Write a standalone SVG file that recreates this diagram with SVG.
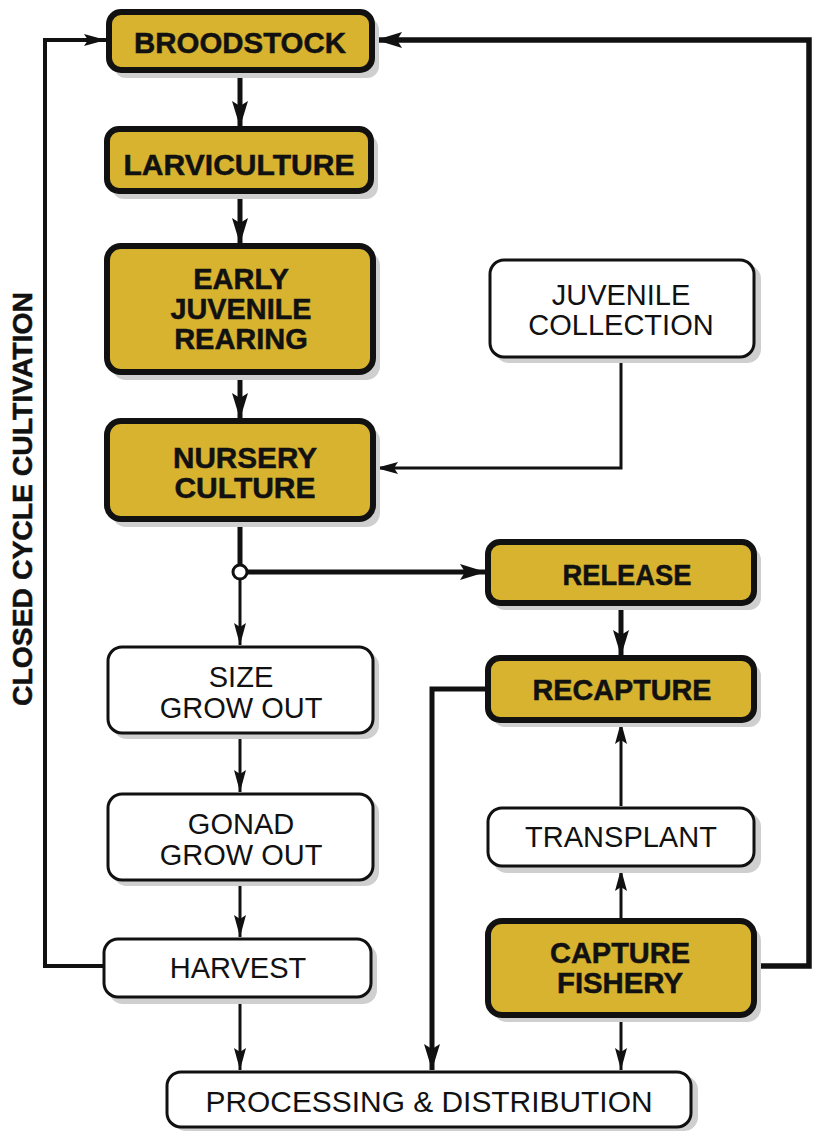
<svg xmlns="http://www.w3.org/2000/svg" width="813" height="1131" viewBox="0 0 813 1131">
<style>
.gold{fill:#d7b330;stroke:#111;stroke-width:6}
.white{fill:#fff;stroke:#111;stroke-width:3}
.shadow{fill:#cfcfcf}
.bt{font-family:"Liberation Sans",Arial,sans-serif;font-weight:bold;font-size:30px;fill:#111;stroke:#111;stroke-width:0.5;text-anchor:middle}
.rt{font-family:"Liberation Sans",Arial,sans-serif;font-size:29px;fill:#111;text-anchor:middle}
.thick{fill:none;stroke:#111;stroke-width:5}
.thin{fill:none;stroke:#111;stroke-width:3}
</style>
<defs>
<marker id="ah" markerUnits="userSpaceOnUse" markerWidth="28" markerHeight="18" refX="26" refY="8" orient="auto">
<path d="M0,0 L26,8 L0,16 L5,8 z" fill="#111"/>
</marker>
<marker id="ahs" markerUnits="userSpaceOnUse" markerWidth="24" markerHeight="14" refX="22" refY="6" orient="auto">
<path d="M0,0 L22,6 L0,12 L4,6 z" fill="#111"/>
</marker>
</defs>

<g id="connectors">
<path class="thick" d="M240,73 V127" marker-end="url(#ah)"/>
<path class="thick" d="M240,194 V244" marker-end="url(#ah)"/>
<path class="thick" d="M240,375 V419" marker-end="url(#ah)"/>
<path class="thick" d="M240,522 V565"/>
<path class="thick" d="M247,572 H486" marker-end="url(#ah)"/>
<path class="thin" d="M240,579 V645" marker-end="url(#ahs)"/>
<path class="thin" d="M240,735 V792" marker-end="url(#ahs)"/>
<path class="thin" d="M240,882 V937" marker-end="url(#ahs)"/>
<path class="thin" d="M240,999 V1070" marker-end="url(#ahs)"/>
<path fill="none" stroke="#111" stroke-width="4" d="M104,966 H45 V40 H106" marker-end="url(#ahs)"/>
<path fill="none" stroke="#111" stroke-width="5.5" d="M755,966 H809 V40 H376" marker-end="url(#ah)"/>
<path class="thin" d="M621,359 V468 H376" marker-end="url(#ahs)"/>
<path class="thick" d="M621,606 V656" marker-end="url(#ah)"/>
<path class="thick" d="M486,689 H432 V1070" marker-end="url(#ah)"/>
<path class="thin" d="M621,806 V722" marker-end="url(#ahs)"/>
<path class="thin" d="M621,919 V869" marker-end="url(#ahs)"/>
<path class="thin" d="M621,1018 V1070" marker-end="url(#ahs)"/>
<circle cx="240" cy="572" r="7" fill="#fff" stroke="#111" stroke-width="3"/>
</g>

<g id="broodstock">
<rect class="shadow" x="114" y="18" width="265" height="60" rx="12"/>
<rect class="gold" x="109" y="12" width="263" height="58" rx="12"/>
<text class="bt" x="240" y="53" textLength="212" lengthAdjust="spacingAndGlyphs">BROODSTOCK</text>
</g>

<g id="larviculture">
<rect class="shadow" x="112" y="135" width="266" height="64" rx="12"/>
<rect class="gold" x="107" y="129" width="264" height="62" rx="12"/>
<text class="bt" x="239" y="175" textLength="231" lengthAdjust="spacingAndGlyphs">LARVICULTURE</text>
</g>

<g id="early-juvenile-rearing">
<rect class="shadow" x="112" y="252" width="268" height="128" rx="14"/>
<rect class="gold" x="107" y="246" width="266" height="126" rx="14"/>
<text class="bt" style="font-size:29px" x="241" y="289">EARLY</text>
<text class="bt" style="font-size:29px" x="241" y="319" textLength="141" lengthAdjust="spacingAndGlyphs">JUVENILE</text>
<text class="bt" style="font-size:29px" x="241" y="349">REARING</text>
</g>

<g id="nursery-culture">
<rect class="shadow" x="112" y="427" width="268" height="100" rx="14"/>
<rect class="gold" x="107" y="421" width="266" height="98" rx="14"/>
<text class="bt" x="245" y="468" textLength="144" lengthAdjust="spacingAndGlyphs">NURSERY</text>
<text class="bt" x="245" y="498">CULTURE</text>
</g>

<g id="juvenile-collection">
<rect class="shadow" x="495" y="265" width="266" height="98" rx="14"/>
<rect class="white" x="490" y="260" width="264" height="97" rx="14"/>
<text class="rt" x="621" y="305">JUVENILE</text>
<text class="rt" x="621" y="335">COLLECTION</text>
</g>

<g id="release">
<rect class="shadow" x="493" y="548" width="268" height="62" rx="12"/>
<rect class="gold" x="488" y="542" width="266" height="61" rx="12"/>
<text class="bt" x="627" y="585" textLength="129" lengthAdjust="spacingAndGlyphs">RELEASE</text>
</g>

<g id="recapture">
<rect class="shadow" x="493" y="664" width="268" height="63" rx="12"/>
<rect class="gold" x="488" y="658" width="266" height="62" rx="12"/>
<text class="bt" x="622" y="700" textLength="179" lengthAdjust="spacingAndGlyphs">RECAPTURE</text>
</g>

<g id="size-grow-out">
<rect class="shadow" x="113" y="652" width="266" height="87" rx="14"/>
<rect class="white" x="108" y="647" width="265" height="86" rx="14"/>
<text class="rt" x="241" y="687">SIZE</text>
<text class="rt" x="241" y="718">GROW OUT</text>
</g>

<g id="gonad-grow-out">
<rect class="shadow" x="113" y="799" width="266" height="87" rx="14"/>
<rect class="white" x="108" y="794" width="265" height="86" rx="14"/>
<text class="rt" x="241" y="834">GONAD</text>
<text class="rt" x="241" y="865">GROW OUT</text>
</g>

<g id="transplant">
<rect class="shadow" x="493" y="813" width="268" height="60" rx="14"/>
<rect class="white" x="488" y="808" width="266" height="58" rx="14"/>
<text class="rt" x="621" y="847">TRANSPLANT</text>
</g>

<g id="harvest">
<rect class="shadow" x="109" y="944" width="268" height="60" rx="14"/>
<rect class="white" x="104" y="939" width="267" height="58" rx="14"/>
<text class="rt" x="238" y="978">HARVEST</text>
</g>

<g id="capture-fishery">
<rect class="shadow" x="493" y="927" width="268" height="95" rx="14"/>
<rect class="gold" x="488" y="921" width="266" height="94" rx="14"/>
<text class="bt" x="620" y="963" textLength="140" lengthAdjust="spacingAndGlyphs">CAPTURE</text>
<text class="bt" x="620" y="993" textLength="126" lengthAdjust="spacingAndGlyphs">FISHERY</text>
</g>

<g id="processing-distribution">
<rect class="shadow" x="172" y="1076" width="526" height="55" rx="14"/>
<rect class="white" x="167" y="1072" width="524" height="55" rx="14"/>
<text class="rt" x="429" y="1112" textLength="447" lengthAdjust="spacingAndGlyphs">PROCESSING &amp; DISTRIBUTION</text>
</g>

<g id="label">
<text class="bt" style="font-size:28px" transform="translate(32,499) rotate(-90)" textLength="414" lengthAdjust="spacingAndGlyphs">CLOSED CYCLE CULTIVATION</text>
</g>
</svg>
